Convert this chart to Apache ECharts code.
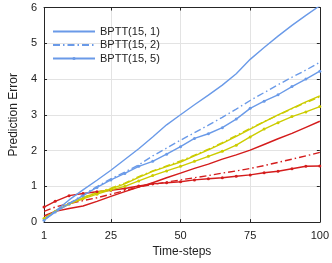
<!DOCTYPE html>
<html><head><meta charset="utf-8">
<script src="https://cdn.jsdelivr.net/npm/echarts@6/dist/echarts.min.js"></script>
<style>html,body{margin:0;padding:0;background:#fff}#c{width:332px;height:263px}</style>
</head><body><div id="c"></div>
<script>
const steps = [1,5,10,15,20,25,30,35,40,45,50,55,60,65,70,75,80,85,90,95,100];
const xTicks = [1,25,50,75,100];
const legendNames = ['BPTT(15, 1)','BPTT(15, 2)','BPTT(15, 5)'];

const blue1 = [0.05,0.30,0.62,0.90,1.17,1.45,1.75,2.05,2.38,2.72,3.00,3.28,3.55,3.83,4.15,4.55,4.88,5.20,5.50,5.78,6.05];
const blue2 = [0.07,0.30,0.52,0.76,0.99,1.21,1.40,1.60,1.85,2.07,2.29,2.50,2.71,2.93,3.16,3.40,3.62,3.84,4.05,4.25,4.47];
const blue5 = [0.05,0.28,0.51,0.74,0.97,1.18,1.36,1.56,1.70,1.90,2.11,2.34,2.47,2.64,2.88,3.18,3.38,3.56,3.79,4.00,4.22];

const yel1 = [0.10,0.30,0.52,0.68,0.82,0.93,1.07,1.25,1.42,1.55,1.68,1.85,2.02,2.20,2.40,2.60,2.80,3.00,3.18,3.36,3.53];
const yel2 = [0.10,0.31,0.53,0.69,0.83,0.95,1.09,1.27,1.43,1.57,1.71,1.87,2.04,2.22,2.42,2.62,2.81,2.99,3.17,3.34,3.50];
const yel5 = [0.10,0.30,0.50,0.65,0.78,0.90,1.00,1.15,1.30,1.43,1.56,1.70,1.84,1.98,2.15,2.38,2.60,2.78,2.95,3.08,3.23];

const red1 = [0.17,0.30,0.38,0.45,0.58,0.72,0.85,0.98,1.10,1.24,1.37,1.50,1.62,1.76,1.88,2.01,2.17,2.33,2.48,2.65,2.82];
const red2 = [0.30,0.42,0.52,0.60,0.68,0.78,0.88,0.98,1.05,1.12,1.18,1.24,1.30,1.37,1.43,1.50,1.58,1.67,1.76,1.85,1.95];
const red5 = [0.42,0.58,0.74,0.80,0.85,0.89,0.94,1.01,1.07,1.10,1.13,1.18,1.21,1.24,1.28,1.32,1.38,1.42,1.49,1.56,1.57];

const BLUE = '#6a9ae8', YEL = '#cccc00', RED = '#d41c1c';
const DASHDOT = [7,3,1.5,3];
function pairs(v){ return steps.map((t,i)=>[t,v[i]]); }
function mk(name, vals, color, style, marker){
  return {
    name, type:'line', data:pairs(vals), color,
    showSymbol: !!marker, symbol: marker ? 'circle' : 'none', symbolSize: 3,
    lineStyle:{color, width:1.4, type: style==='dd' ? DASHDOT : 'solid'},
    itemStyle:{color}, animation:false, silent:true, z: 3
  };
}
const series = [
  mk('r1', red1, RED, 's', false),
  mk('r2', red2, RED, 'dd', false),
  mk('r5', red5, RED, 's', true),
  mk('y1', yel1, YEL, 's', false),
  mk('y2', yel2, YEL, 'dd', false),
  mk('y5', yel5, YEL, 's', true),
  mk(legendNames[0], blue1, BLUE, 's', false),
  mk(legendNames[1], blue2, BLUE, 'dd', false),
  mk(legendNames[2], blue5, BLUE, 's', true)
];
const FONT = 'Liberation Sans';
const AX = '#262626';
const chart = echarts.init(document.getElementById('c'), null, {renderer:'canvas'});
chart.setOption({
  animation:false,
  textStyle:{fontFamily:FONT},
  grid:{left:31, top:7.5, right:11.7, bottom:36, containLabel:false},
  legend:{
    data: [
      {name: legendNames[0], itemStyle:{opacity:0}},
      {name: legendNames[1], itemStyle:{opacity:0}},
      {name: legendNames[2]}
    ],
    left:52, top:26, padding:0, orient:'vertical', icon:'inherit',
    itemWidth:42, itemHeight:4, itemGap:2.5,
    textStyle:{fontFamily:FONT, fontSize:11, color:'#222'}
  },
  xAxis:[{
    type:'value', min:1, max:100, position:'bottom',
    name:'Time-steps', nameLocation:'middle', nameGap:22,
    nameTextStyle:{fontFamily:FONT, fontSize:12, color:'#222'},
    axisLine:{show:true, onZero:false, lineStyle:{color:AX, width:1}},
    axisTick:{show:true, inside:true, length:3, customValues:xTicks, lineStyle:{color:AX}},
    axisLabel:{customValues:xTicks, fontFamily:FONT, fontSize:11, color:'#222', margin:8},
    splitLine:{show:true, lineStyle:{color:'#e3e3e3', width:1}}
  },{
    type:'value', min:1, max:100, position:'top',
    axisLine:{show:true, onZero:false, lineStyle:{color:AX, width:1}},
    axisTick:{show:true, inside:true, length:3, customValues:xTicks, lineStyle:{color:AX}},
    axisLabel:{show:false}, splitLine:{show:false}
  }],
  yAxis:[{
    type:'value', min:0, max:6, interval:1, position:'left',
    name:'Prediction Error', nameLocation:'middle', nameGap:19,
    nameTextStyle:{fontFamily:FONT, fontSize:12, color:'#222'},
    axisLine:{show:true, onZero:false, lineStyle:{color:AX, width:1}},
    axisTick:{show:true, inside:true, length:3, lineStyle:{color:AX}},
    axisLabel:{fontFamily:FONT, fontSize:11, color:'#222', margin:7},
    splitLine:{show:true, lineStyle:{color:'#e3e3e3', width:1}}
  },{
    type:'value', min:0, max:6, interval:1, position:'right',
    axisLine:{show:true, onZero:false, lineStyle:{color:AX, width:1}},
    axisTick:{show:true, inside:true, length:3, lineStyle:{color:AX}},
    axisLabel:{show:false}, splitLine:{show:false}
  }],
  series
});
</script></body></html>
